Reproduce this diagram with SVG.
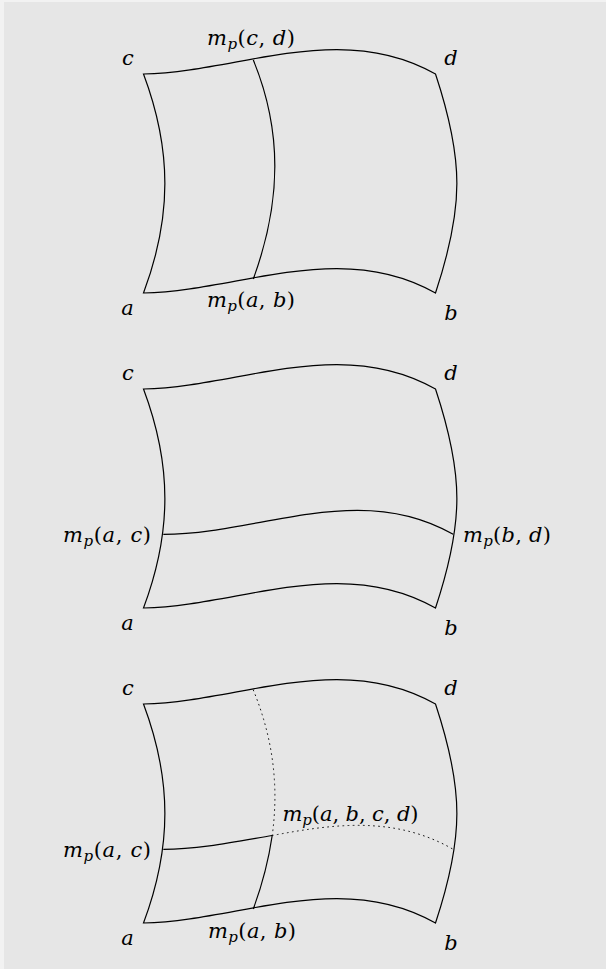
<svg xmlns="http://www.w3.org/2000/svg" xmlns:xlink="http://www.w3.org/1999/xlink" width="606" height="969" viewBox="0 0 606 969">
<style>
.edge{fill:none;stroke:#000;stroke-width:1.2;stroke-linejoin:miter}
.dot{fill:none;stroke:#000;stroke-width:0.9;stroke-dasharray:0.9 4.2;stroke-linecap:round}
.i{font-style:italic}
.sub{font-style:italic;font-size:15px}
.c{text-anchor:middle;font-style:italic;font-size:21px}
</style>
<defs>
<path id="outline" d="M143.5,74 C240,72 340,20 435.5,74 C464,160 464,207 435.5,293 C340,239 240,291 143.5,293 C172,217 172,150 143.5,74 Z"/>
</defs>
<rect x="0" y="0" width="606" height="969" fill="#f2f2f2"/>
<rect x="4" y="2" width="602" height="967" fill="#e6e6e6"/>
<g font-family="DejaVu Serif, serif" font-size="21" fill="#000">
<g id="panel1">
<use xlink:href="#outline" class="edge"/>
<g id="connectors1">
<path class="edge" d="M253.3,60 C282,130 282,200 253.3,279"/>
</g>
<text class="c" x="128" y="64.5">c</text>
<text class="c" x="451" y="65">d</text>
<text class="c" x="127.5" y="315">a</text>
<text class="c" x="451" y="320">b</text>
<text x="207" y="45" textLength="88"><tspan class="i">m</tspan><tspan class="sub" dy="4">p</tspan><tspan dy="-4">(</tspan><tspan class="i">c</tspan>, <tspan class="i">d</tspan>)</text>
<text x="207" y="307" textLength="88"><tspan class="i">m</tspan><tspan class="sub" dy="4">p</tspan><tspan dy="-4">(</tspan><tspan class="i">a</tspan>, <tspan class="i">b</tspan>)</text>
</g>

<g id="panel2" transform="translate(0,315)">
<use xlink:href="#outline" class="edge"/>
<g id="connectors2">
<path class="edge" d="M163.3,219.3 C259.5,219.3 359,165.3 453.2,219.3"/>
</g>
<text class="c" x="128" y="64.5">c</text>
<text class="c" x="451" y="65">d</text>
<text class="c" x="127.5" y="315">a</text>
<text class="c" x="451" y="320">b</text>
<text x="63" y="226.5" textLength="88"><tspan class="i">m</tspan><tspan class="sub" dy="4">p</tspan><tspan dy="-4">(</tspan><tspan class="i">a</tspan>, <tspan class="i">c</tspan>)</text>
<text x="463" y="226.5" textLength="88"><tspan class="i">m</tspan><tspan class="sub" dy="4">p</tspan><tspan dy="-4">(</tspan><tspan class="i">b</tspan>, <tspan class="i">d</tspan>)</text>
</g>

<g id="panel3" transform="translate(0,630)">
<use xlink:href="#outline" class="edge"/>
<g id="connectors3">
<path class="dot" d="M253.3,60 C272.8,107.8 279.1,155.3 272.2,205.5"/>
<path class="edge" d="M272.2,205.5 C268.7,229.5 262.5,253.9 253.3,279"/>
<path class="edge" d="M163.3,219.3 C199.4,219.3 235.9,211.7 272.2,205.5"/>
<path class="dot" d="M272.2,205.5 C333.4,194 394.3,185.5 453.2,219.3"/>
</g>
<text class="c" x="128" y="64.5">c</text>
<text class="c" x="451" y="65">d</text>
<text class="c" x="127.5" y="315">a</text>
<text class="c" x="451" y="320">b</text>
<text x="63" y="226.5" textLength="88"><tspan class="i">m</tspan><tspan class="sub" dy="4">p</tspan><tspan dy="-4">(</tspan><tspan class="i">a</tspan>, <tspan class="i">c</tspan>)</text>
<text x="282.5" y="190.5" textLength="136"><tspan class="i">m</tspan><tspan class="sub" dy="4">p</tspan><tspan dy="-4">(</tspan><tspan class="i">a</tspan>, <tspan class="i">b</tspan>, <tspan class="i">c</tspan>, <tspan class="i">d</tspan>)</text>
<text x="208" y="307.5" textLength="88"><tspan class="i">m</tspan><tspan class="sub" dy="4">p</tspan><tspan dy="-4">(</tspan><tspan class="i">a</tspan>, <tspan class="i">b</tspan>)</text>
</g>
</g>
</svg>
